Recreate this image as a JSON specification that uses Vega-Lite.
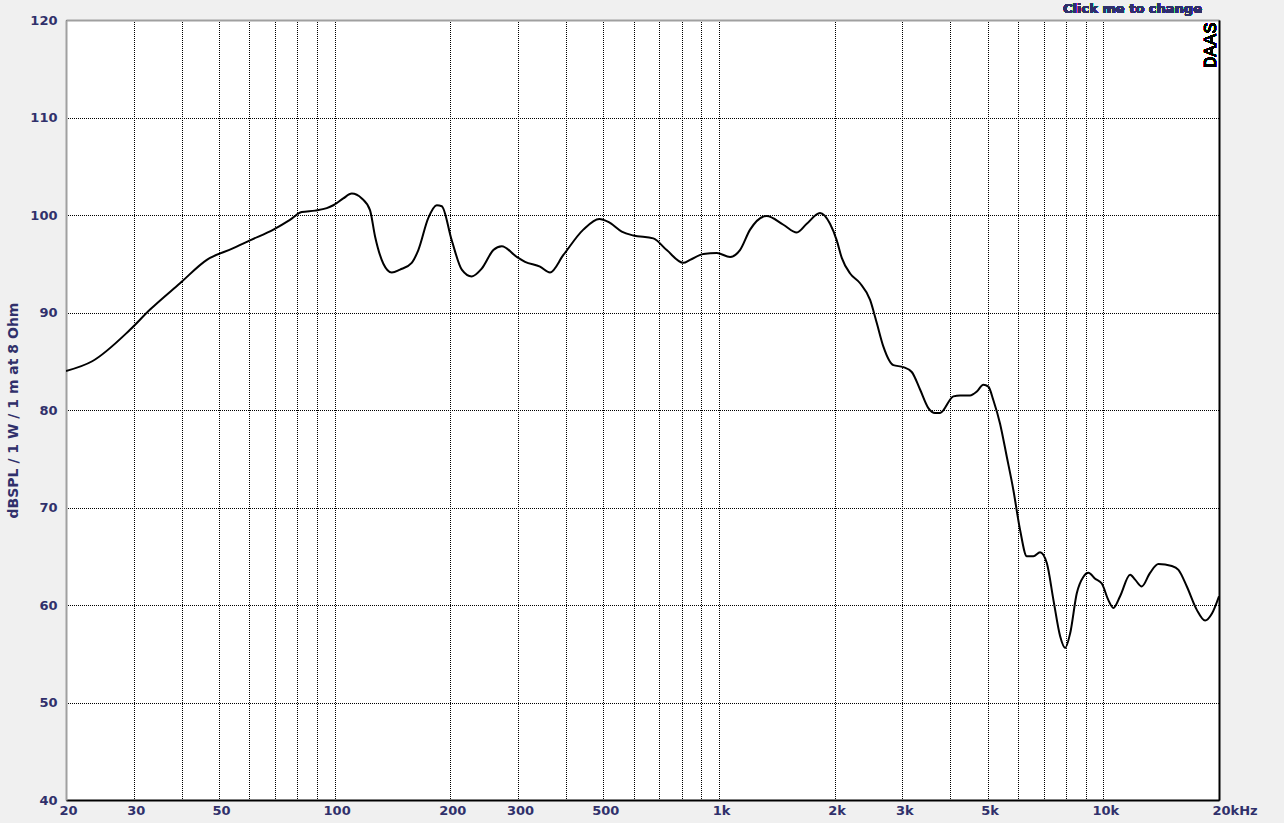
{
  "$schema": "https://vega.github.io/schema/vega-lite/v6.json",
  "autosize": "none",
  "width": 1153,
  "height": 780,
  "padding": {"left": 66, "top": 20, "right": 65, "bottom": 23},
  "background": "#f0f0f0",
  "config": {
    "view": {"fill": "white", "stroke": null},
    "font": "DejaVu Sans"
  },
  "data": {
    "values": [
      {"f": 20, "db": 84.0}, {"f": 23.4, "db": 85.0}, {"f": 29.3, "db": 88.2}, {"f": 33.1, "db": 90.3},
      {"f": 39.6, "db": 93.0}, {"f": 46.5, "db": 95.4}, {"f": 54.5, "db": 96.6}, {"f": 60.2, "db": 97.4},
      {"f": 69.3, "db": 98.5}, {"f": 76.5, "db": 99.5}, {"f": 82.1, "db": 100.3}, {"f": 88.9, "db": 100.45},
      {"f": 95.4, "db": 100.7}, {"f": 99.2, "db": 101.0}, {"f": 105.3, "db": 101.7}, {"f": 110.8, "db": 102.2},
      {"f": 117.7, "db": 101.7}, {"f": 123.6, "db": 100.5}, {"f": 127.4, "db": 97.8}, {"f": 133.9, "db": 95.0},
      {"f": 140.8, "db": 94.1}, {"f": 148.0, "db": 94.4}, {"f": 158.7, "db": 95.1}, {"f": 165.1, "db": 96.4},
      {"f": 175.3, "db": 99.7}, {"f": 184.4, "db": 101.0}, {"f": 190.0, "db": 100.9}, {"f": 201.7, "db": 97.4},
      {"f": 214.2, "db": 94.4}, {"f": 227.4, "db": 93.7}, {"f": 241.4, "db": 94.5}, {"f": 258.8, "db": 96.4},
      {"f": 272.2, "db": 96.8}, {"f": 297.8, "db": 95.7}, {"f": 312.9, "db": 95.2}, {"f": 342.3, "db": 94.7},
      {"f": 363.4, "db": 94.1}, {"f": 393.7, "db": 95.9}, {"f": 443.7, "db": 98.5}, {"f": 488.4, "db": 99.6},
      {"f": 515.4, "db": 99.3}, {"f": 558.5, "db": 98.3}, {"f": 598.7, "db": 97.9}, {"f": 674.8, "db": 97.6},
      {"f": 731.3, "db": 96.4}, {"f": 807.8, "db": 95.1}, {"f": 841.0, "db": 95.4}, {"f": 910.9, "db": 96.0},
      {"f": 987, "db": 96.1}, {"f": 1069, "db": 95.7}, {"f": 1134, "db": 96.4}, {"f": 1205, "db": 98.5},
      {"f": 1331, "db": 99.9}, {"f": 1471, "db": 99.0}, {"f": 1594, "db": 98.2}, {"f": 1692, "db": 99.1},
      {"f": 1832, "db": 100.2}, {"f": 1945, "db": 99.1}, {"f": 2025, "db": 97.4}, {"f": 2087, "db": 95.6},
      {"f": 2194, "db": 94.0}, {"f": 2329, "db": 93.0}, {"f": 2473, "db": 91.3}, {"f": 2575, "db": 88.9},
      {"f": 2678, "db": 86.5}, {"f": 2843, "db": 84.6}, {"f": 3018, "db": 84.4}, {"f": 3174, "db": 83.9},
      {"f": 3336, "db": 82.1}, {"f": 3506, "db": 80.2}, {"f": 3650, "db": 79.7}, {"f": 3761, "db": 79.7},
      {"f": 4073, "db": 81.4}, {"f": 4240, "db": 81.5}, {"f": 4501, "db": 81.5}, {"f": 4688, "db": 81.9},
      {"f": 4875, "db": 82.6}, {"f": 5023, "db": 82.4}, {"f": 5176, "db": 81.0}, {"f": 5387, "db": 78.6},
      {"f": 5609, "db": 75.2}, {"f": 5834, "db": 71.8}, {"f": 6074, "db": 67.7}, {"f": 6324, "db": 65.0},
      {"f": 6579, "db": 65.0}, {"f": 6847, "db": 65.4}, {"f": 7128, "db": 64.3}, {"f": 7418, "db": 60.5},
      {"f": 7721, "db": 56.8}, {"f": 7957, "db": 55.6}, {"f": 8199, "db": 57.1}, {"f": 8531, "db": 61.2},
      {"f": 8878, "db": 62.9}, {"f": 9147, "db": 63.3}, {"f": 9520, "db": 62.7}, {"f": 9910, "db": 62.2},
      {"f": 10309, "db": 60.5}, {"f": 10622, "db": 59.7}, {"f": 11058, "db": 60.9}, {"f": 11742, "db": 63.1},
      {"f": 12098, "db": 62.6}, {"f": 12592, "db": 61.9}, {"f": 13233, "db": 63.3}, {"f": 13913, "db": 64.2},
      {"f": 15078, "db": 64.0}, {"f": 15686, "db": 63.6}, {"f": 16494, "db": 61.9}, {"f": 17512, "db": 59.5},
      {"f": 18400, "db": 58.4}, {"f": 19155, "db": 59.1}, {"f": 20000, "db": 60.9}
    ]
  },
  "resolve": {"axis": {"x": "independent", "y": "independent"}},
  "layer": [
    {
      "mark": {"type": "line", "color": "black", "strokeWidth": 2, "interpolate": "monotone", "clip": true},
      "encoding": {
        "x": {
          "field": "f", "type": "quantitative",
          "scale": {"type": "log", "domain": [20, 20000], "nice": false},
          "axis": {
            "orient": "bottom",
            "values": [20, 30, 40, 50, 60, 70, 80, 90, 100, 200, 300, 400, 500, 600, 700, 800, 900, 1000, 2000, 3000, 4000, 5000, 6000, 7000, 8000, 9000, 10000, 20000],
            "labelExpr": "indexof([20,30,50,100,200,300,500,1000,2000,3000,5000,10000,20000], datum.value) < 0 ? '' : (datum.value == 20000 ? '20kHz' : (datum.value >= 1000 ? (datum.value/1000) + 'k' : datum.value + ''))",
            "grid": true, "gridColor": "black", "gridDash": [1, 1], "gridDashOffset": 0.5, "gridOpacity": 1, "gridWidth": 1,
            "ticks": false,
            "domain": true, "domainColor": "black", "domainWidth": 2,
            "labelFont": "DejaVu Sans", "labelFontWeight": "bold", "labelFontSize": 13, "labelColor": "#30306b",
            "labelPadding": 4, "labelFlush": false, "labelOverlap": false,
            "labelAlign": {"condition": {"test": "datum.value == 20000", "value": "left"}, "value": "center"},
            "labelOffset": {"condition": {"test": "datum.value == 20000", "value": -7}, "value": 2},
            "title": null
          }
        },
        "y": {
          "field": "db", "type": "quantitative",
          "scale": {"domain": [40, 120], "nice": false, "zero": false},
          "axis": {
            "orient": "left",
            "values": [40, 50, 60, 70, 80, 90, 100, 110, 120],
            "grid": true, "gridColor": "black", "gridDash": [1, 1], "gridDashOffset": 0.5, "gridOpacity": 1, "gridWidth": 1,
            "ticks": false,
            "domain": true, "domainColor": "#a0a0a0", "domainWidth": 2,
            "labelFont": "DejaVu Sans", "labelFontWeight": "bold", "labelFontSize": 13, "labelColor": "#30306b",
            "labelPadding": 9, "labelFlush": false, "labelOverlap": false,
            "title": "dBSPL / 1 W / 1 m at 8 Ohm",
            "titleFont": "DejaVu Sans", "titleFontWeight": "bold", "titleFontSize": 14, "titleColor": "#30306b",
            "titlePadding": 9
          }
        }
      }
    },
    {
      "mark": {"type": "point", "opacity": 0},
      "encoding": {
        "x": {
          "field": "f", "type": "quantitative",
          "axis": {"orient": "top", "labels": false, "ticks": false, "grid": false, "domain": true, "domainColor": "#a0a0a0", "domainWidth": 2, "title": null, "minExtent": 0, "maxExtent": 0}
        },
        "y": {
          "field": "db", "type": "quantitative",
          "axis": {"orient": "right", "labels": false, "ticks": false, "grid": false, "domain": true, "domainColor": "black", "domainWidth": 2, "title": null, "minExtent": 0, "maxExtent": 0}
        }
      }
    },
    {
      "mark": {"type": "text", "text": "DAAS", "angle": 270, "align": "right", "baseline": "middle", "font": "Liberation Mono", "fontSize": 19, "color": "black"},
      "encoding": {
        "x": {"datum": 18950, "type": "quantitative", "axis": null},
        "y": {"datum": 119.75, "type": "quantitative", "axis": null}
      }
    },
    {
      "mark": {"type": "text", "text": "Click me to change", "align": "right", "baseline": "alphabetic", "dx": -17, "dy": -7, "font": "DejaVu Sans", "fontSize": 13, "fontWeight": "bold", "color": "#30306b"},
      "encoding": {
        "x": {"datum": 20000, "type": "quantitative", "axis": null},
        "y": {"datum": 120, "type": "quantitative", "axis": null}
      }
    }
  ]
}
